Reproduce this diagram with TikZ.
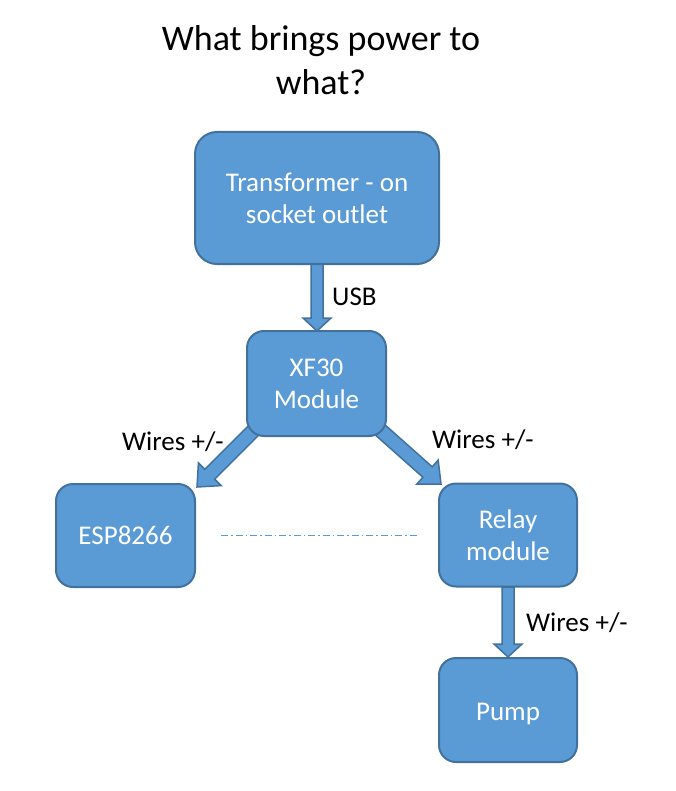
\documentclass[tikz,border=0pt]{standalone}
\usepackage{fontspec}
\setmainfont{Carlito}
\usetikzlibrary{calc}
\definecolor{boxfill}{HTML}{5B9BD5}
\definecolor{boxline}{HTML}{41719C}
% #1 start, #2 end, #3 shaft half width, #4 head half width, #5 head length
\newcommand\blockarrow[5]{%
  \path (#1) coordinate (ba-s) (#2) coordinate (ba-e);
  \coordinate (ba-h) at ($(ba-e)!#5!(ba-s)$);
  \draw[barrow] ($(ba-s)!#3!90:(ba-e)$) -- ($(ba-h)!#3!-90:(ba-s)$) -- ($(ba-h)!#4!-90:(ba-s)$)
     -- (ba-e) -- ($(ba-h)!#4!90:(ba-s)$) -- ($(ba-h)!#3!90:(ba-s)$) -- ($(ba-s)!#3!-90:(ba-e)$) -- cycle;}
\begin{document}
\begin{tikzpicture}[x=1pt,y=-1pt,
  box/.style={draw=boxline, fill=boxfill, line width=2pt, rounded corners=17pt, text=white,
    font=\fontsize{27}{32}\selectfont, align=center, inner sep=0pt},
  barrow/.style={draw=boxline, fill=boxfill, line width=1.5pt, line join=miter},
  lbl/.style={font=\fontsize{27}{32}\selectfont, anchor=base west, inner sep=0pt},
  ttl/.style={font=\fontsize{36}{44}\selectfont, anchor=base, inner sep=0pt}]
\useasboundingbox (0,0) rectangle (676,791);
% title
\node[ttl] (t1) at (321,51) {What brings power to};
\node[ttl] (t2) at (321,95) {what?};
% anchor coordinates for the diagonal arrows
\coordinate (la-s) at (256,428);
\coordinate (la-e) at (197,487);
\coordinate (ra-s) at (378,428);
\coordinate (ra-e) at (441,484);
% arrows (drawn below boxes)
\path (317,264) coordinate (ua-s) (317,331) coordinate (ua-e);
\blockarrow{ua-s}{ua-e}{6pt}{14pt}{13pt}
\blockarrow{la-s}{la-e}{7pt}{16pt}{18pt}
\blockarrow{ra-s}{ra-e}{7pt}{16pt}{18pt}
\path (508,587) coordinate (pa-s) (508,657) coordinate (pa-e);
\blockarrow{pa-s}{pa-e}{6pt}{14pt}{13pt}
% boxes
\node[box, rounded corners=22pt, minimum width=244pt, minimum height=132pt] (T) at (317,198) {Transformer - on\\socket outlet};
\node[box, minimum width=139pt, minimum height=105pt] (X) at (316.5,383.5) {XF30\\Module};
\node[box, minimum width=139pt, minimum height=103pt] (E) at (125.5,535.5) {ESP8266};
\node[box, minimum width=138pt, minimum height=103pt] (R) at (508,535) {Relay\\module};
\node[box, minimum width=138pt, minimum height=104pt] (P) at (508,710) {\raisebox{-4pt}[\height][\depth]{Pump}};
% dash-dot line
\coordinate (d1) at (221,535);
\coordinate (d2) at (417,535);
\draw[boxfill, line width=0.8pt, dash pattern=on 7pt off 3pt on 1.5pt off 3pt] (d1) -- (d2);
% labels
\node[lbl] (l1) at (332,305) {USB};
\node[lbl] (l2) at (122,450) {Wires +/-};
\node[lbl] (l3) at (432,448) {Wires +/-};
\node[lbl] (l4) at (526,631) {Wires +/-};
\end{tikzpicture}
\end{document}
